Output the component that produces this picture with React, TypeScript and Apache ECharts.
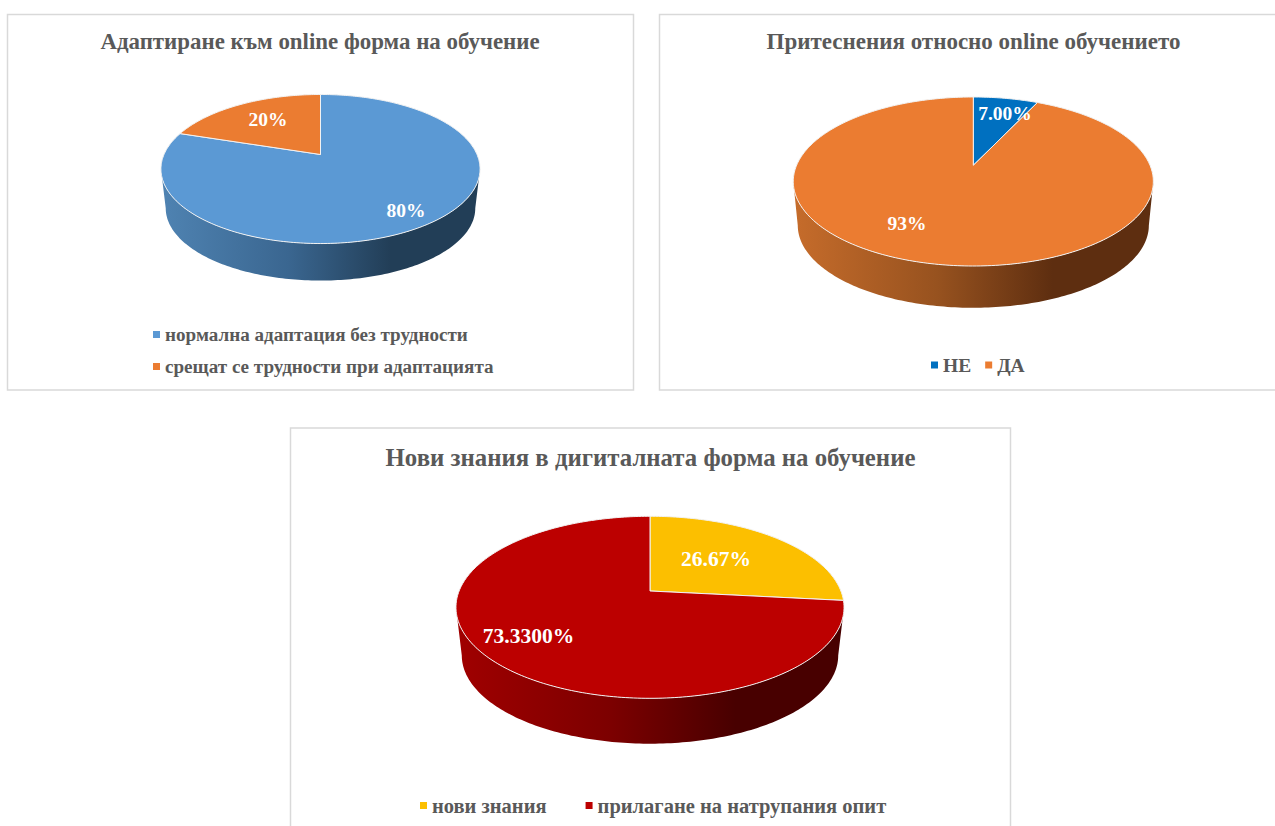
import React, { useEffect, useRef } from "react";
import * as echarts from "echarts";

// ---- data ----
const adaptCategories = ["нормална адаптация без трудности", "срещат се трудности при адаптацията"];
const adaptValues = [80, 20];
const adaptLabels = ["80%", "20%"];

const worryCategories = ["НЕ", "ДА"];
const worryValues = [7, 93];
const worryLabels = ["7.00%", "93%"];

const knowledgeCategories = ["нови знания", "прилагане на натрупания опит"];
const knowledgeValues = [26.67, 73.33];
const knowledgeLabels = ["26.67%", "73.3300%"];

const titles = [
  "Адаптиране към online форма на обучение",
  "Притеснения относно online обучението",
  "Нови знания в дигиталната форма на обучение",
];

// ---- style & layout ----
const FONT = '"Liberation Serif", "Times New Roman", serif';
const GREY = "#595959";

type Geo = {
  cx: number; y0: number; a: number; b: number; k: number; s: number; dy: number; fontSize: number;
};
const geoAdapt: Geo = { cx: 320.5, y0: 154.5, a: 156.5, b: 71.7, k: 0.1947, s: 0.97, dy: 39.7, fontSize: 19.5 };
const geoWorry: Geo = { cx: 973.3, y0: 165.3, a: 176.7, b: 81.4, k: 0.1917, s: 0.975, dy: 44.3, fontSize: 19.5 };
const geoKnow: Geo = { cx: 650, y0: 591, a: 190.9, b: 88.1, k: 0.179, s: 0.97, dy: 48.6, fontSize: 21.5 };

const adaptColors = ["#5B99D4", "#EB7C31"];
const worryColors = ["#0070C0", "#EB7C31"];
const knowColors = ["#FCBF00", "#BC0000"];

const adaptWall = [["#4F83B2", "#3A6690", "#223E57"], ["#8E4A1C", "#8E4A1C", "#8E4A1C"]];
const worryWall = [["#004A80", "#004A80", "#004A80"], ["#C66C2B", "#97521F", "#5E2E10"]];
const knowWall = [["#A07800", "#A07800", "#A07800"], ["#A00000", "#7C0000", "#480000"]];

const adaptLabelPos = [[406, 210], [268, 119.5]];
const worryLabelPos = [[1005, 113.5], [907, 223]];
const knowLabelPos = [[716, 559], [528.5, 636]];

function project(g: Geo, deg: number, lower: boolean): number[] {
  const t = (deg * Math.PI) / 180;
  const u = Math.sin(t);
  const v = -Math.cos(t);
  const w = 1 - g.k * v;
  const sc = lower ? g.s : 1;
  return [g.cx + (sc * g.a * u) / w, g.y0 + (lower ? g.dy : 0) + (sc * g.b * v) / w];
}

function arc(g: Geo, from: number, to: number, lower: boolean): number[][] {
  const out: number[][] = [];
  const step = to >= from ? 1 : -1;
  for (let d = from; step > 0 ? d < to : d > to; d += step) out.push(project(g, d, lower));
  out.push(project(g, to, lower));
  return out;
}

function sliceSeries(
  name: string, values: number[], index: number, g: Geo, color: string,
  wall: string[], label: string, labelPos: number[],
) {
  const total = values.reduce((p, c) => p + c, 0);
  const before = values.slice(0, index).reduce((p, c) => p + c, 0);
  return {
    type: "custom",
    name,
    coordinateSystem: "none",
    silent: true,
    itemStyle: { color },
    data: [[before, values[index], total]],
    renderItem: (_p: any, api: any) => {
      const t = api.value(2);
      const a0 = (api.value(0) / t) * 360;
      const a1 = a0 + (api.value(1) / t) * 360;
      const limit = (Math.acos(-g.k) * 180) / Math.PI;
      const w0 = Math.max(a0, limit);
      const w1 = Math.min(a1, 360 - limit);
      const children: any[] = [];
      if (w1 > w0) {
        children.push({
          type: "polygon",
          z2: 1,
          shape: { points: [...arc(g, w0, w1, false), ...arc(g, w1, w0, true)] },
          style: {
            fill: new echarts.graphic.LinearGradient(0, 0, 1, 0, [
              { offset: 0, color: wall[0] },
              { offset: 0.4, color: wall[1] },
              { offset: 0.72, color: wall[2] },
              { offset: 1, color: wall[2] },
            ]),
            stroke: null,
          },
        });
      }
      children.push({
        type: "polygon",
        z2: 2,
        shape: { points: [[g.cx, g.y0], ...arc(g, a0, a1, false)] },
        style: { fill: color, stroke: "#F2F2F2", lineWidth: 1 },
      });
      children.push({
        type: "text",
        z2: 5,
        style: {
          text: label,
          x: labelPos[0],
          y: labelPos[1],
          fill: "#FFFFFF",
          align: "center",
          verticalAlign: "middle",
          font: `bold ${g.fontSize}px ${FONT}`,
        },
      });
      return { type: "group", children };
    },
  };
}

function frame(x: number, y: number, width: number, height: number) {
  return {
    type: "rect",
    shape: { x, y, width, height },
    style: { fill: "#FFFFFF", stroke: "#D9D9D9", lineWidth: 1.5 },
    z: -1,
  };
}

function title(text: string, x: number, top: number, size: number) {
  return {
    text,
    left: x,
    top,
    textAlign: "center",
    padding: 0,
    textStyle: { fontFamily: FONT, fontWeight: "bold", fontSize: size, color: GREY },
  };
}

function legend(data: string[], left: number, top: number, orient: string, gap: number, size: number) {
  return {
    data,
    left,
    top,
    orient,
    padding: 0,
    itemGap: gap,
    itemWidth: 7,
    itemHeight: 7,
    icon: "rect",
    selectedMode: false,
    textStyle: { fontFamily: FONT, fontWeight: "bold", fontSize: size, color: GREY },
  };
}

export default function App() {
  const ref = useRef<HTMLDivElement>(null);
  useEffect(() => {
    const chart = echarts.init(ref.current!, undefined, { renderer: "svg" });
    chart.setOption({
      animation: false,
      backgroundColor: "#FFFFFF",
      graphic: { elements: [frame(7.5, 14.5, 626, 375.5), frame(659.5, 14.5, 620, 375.5), frame(290.5, 428, 720, 410)] },
      title: [
        title(titles[0], 320, 30, 22.9),
        title(titles[1], 973.5, 30, 23),
        title(titles[2], 650.5, 445, 24.8),
      ],
      legend: [
        legend(adaptCategories, 153, 325, "vertical", 13, 19.1),
        legend(worryCategories, 931, 355, "horizontal", 14, 19.5),
        legend(knowledgeCategories, 420, 795, "horizontal", 39, 20.5),
      ],
      series: [
        ...adaptCategories.map((n, i) => sliceSeries(n, adaptValues, i, geoAdapt, adaptColors[i], adaptWall[i], adaptLabels[i], adaptLabelPos[i])),
        ...worryCategories.map((n, i) => sliceSeries(n, worryValues, i, geoWorry, worryColors[i], worryWall[i], worryLabels[i], worryLabelPos[i])),
        ...knowledgeCategories.map((n, i) => sliceSeries(n, knowledgeValues, i, geoKnow, knowColors[i], knowWall[i], knowledgeLabels[i], knowLabelPos[i])),
      ],
    });
    return () => chart.dispose();
  }, []);
  return <div ref={ref} style={{ position: "fixed", left: 0, top: 0, width: 1275, height: 826, overflow: "hidden" }} />;
}
